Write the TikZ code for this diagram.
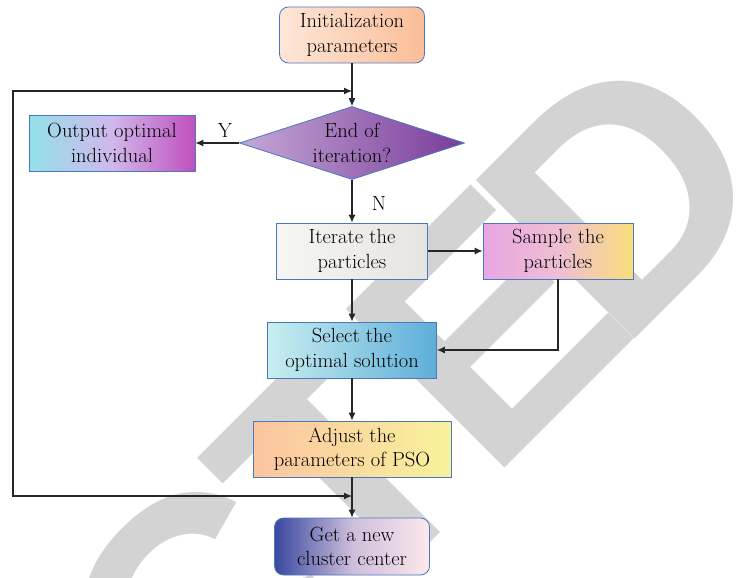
\documentclass[tikz,border=0pt]{standalone}
\usepackage{fontspec}
\usepackage{xcolor}
\usetikzlibrary{shapes.geometric,arrows.meta}
\newfontfamily\wmfont{Liberation Sans}

\definecolor{boxline}{RGB}{74,120,192}
\definecolor{wmgray}{RGB}{211,211,211}
\definecolor{initL}{RGB}{253,230,216}\definecolor{initR}{RGB}{251,190,152}
\definecolor{outL}{RGB}{147,224,232}\definecolor{outM}{RGB}{208,184,236}\definecolor{outR}{RGB}{192,80,189}
\definecolor{decL}{RGB}{196,168,214}\definecolor{decR}{RGB}{122,60,154}
\definecolor{iterL}{RGB}{246,246,244}\definecolor{iterR}{RGB}{230,228,224}
\definecolor{sampL}{RGB}{232,166,226}\definecolor{sampM}{RGB}{238,190,212}\definecolor{sampR}{RGB}{250,222,122}
\definecolor{selL}{RGB}{200,238,240}\definecolor{selR}{RGB}{94,174,217}
\definecolor{adjL}{RGB}{252,196,160}\definecolor{adjR}{RGB}{248,242,156}
\definecolor{getL}{RGB}{58,72,160}\definecolor{getM}{RGB}{205,190,220}\definecolor{getR}{RGB}{253,232,236}

\newcommand\flowfont{\fontsize{20.5}{24.5}\selectfont}

\begin{document}
\begin{tikzpicture}[
    x=1pt, y=-1pt,
    box/.style      ={rectangle, draw=boxline, line width=0.8pt, minimum height=56, inner sep=0pt, align=center, font=\flowfont},
    roundbox/.style ={box, rounded corners=9pt},
    decision/.style ={diamond, draw=boxline, line width=0.8pt, aspect=3.08, inner sep=0pt, minimum width=225, minimum height=73, align=center, font=\flowfont},
    link/.style     ={draw=black!85, line width=1.1pt, -{Latex[length=8pt,width=7pt]}},
    tag/.style      ={font=\flowfont, inner sep=0pt},
    wmark/.style    ={text=wmgray, font={\wmfont\bfseries\fontsize{326}{326}\selectfont}, inner sep=0pt, rotate=45, anchor=base west}
  ]
    % --- canvas ---
    \path[use as bounding box, fill=white] (0,0) rectangle (742,578);
    \def\cx{352} % x of the main column

    % watermark letters, placed along the 45 degree baseline x+y=973.5
    \begin{scope}
      \clip (0,0) rectangle (742,578);
      \foreach \ch/\s in {C/-412, T/-188.5, E/4.2, D/187.2} {
        \node[wmark] (wm\ch) at ({(973.5+1.4142*\s)/2},{(973.5-1.4142*\s)/2}) {\ch};
      }
    \end{scope}

    % --- boxes ---
    \node[roundbox, minimum width=145, left color=initL, right color=initR] (init) at (\cx,35) {Initialization\\parameters};
    \node[decision, left color=decL, right color=decR] (cond) at (\cx,143) {End of\\iteration?};
    \node[box, minimum width=166, left color=outL, right color=outR, middle color=outM] (out) at (112,143) {Output optimal\\individual};
    \node[box, minimum width=151, left color=iterL, right color=iterR] (iter) at (\cx,251) {Iterate the\\particles};
    \node[box, minimum width=150, left color=sampL, right color=sampR, middle color=sampM] (samp) at (558,251) {Sample the\\particles};
    \node[box, minimum width=169, left color=selL, right color=selR] (sel) at (\cx,350) {Select the\\optimal solution};
    \node[box, minimum width=198, left color=adjL, right color=adjR] (adj) at (\cx,449) {Adjust the\\parameters of PSO};
    \node[roundbox, minimum width=155, minimum height=57, left color=getL, right color=getR, middle color=getM] (get) at (\cx,546.5) {Get a new\\cluster center};

    % branch labels
    \node[tag] (ylab) at (225,130) {Y};
    \node[tag] (nlab) at (379,203) {N};

    % --- connectors ---
    \draw[link] (init) -- (cond);
    \draw[link] (cond) -- (out);
    \draw[link] (cond) -- (iter);
    \draw[link] (iter) -- (samp);
    \draw[link] (iter) -- (sel);
    \draw[link] (samp.south) |- (sel.east);
    \draw[link] (sel) -- (adj);
    \draw[link] (adj) -- (get);

    % feedback loop on the left
    \coordinate (loopbot) at (\cx,496);
    \coordinate (looptop) at (\cx,91);
    \draw[link, {Latex[length=8pt,width=7pt]}-{Latex[length=8pt,width=7pt]}] (loopbot) -- ++(-339,0) |- (looptop);
  \end{tikzpicture}
\end{document}
